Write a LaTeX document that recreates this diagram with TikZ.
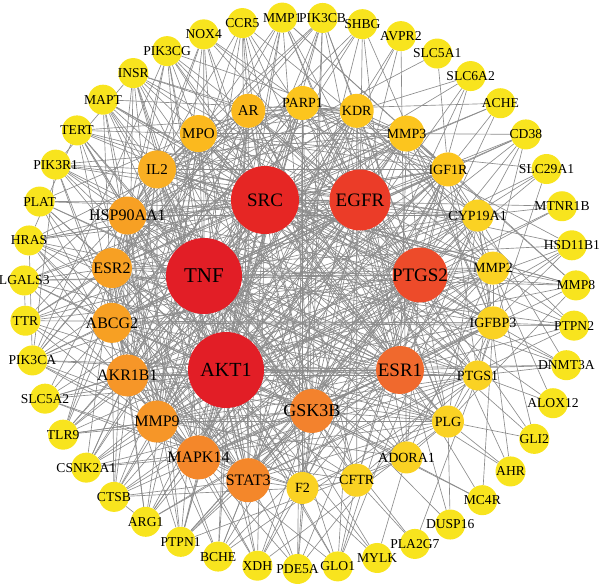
\documentclass[tikz,border=0pt]{standalone}
\usepackage{fontspec}
\setmainfont{Liberation Serif}
\usetikzlibrary{backgrounds}
\definecolor{HubRed}{HTML}{E21E26}
\definecolor{HubScarlet}{HTML}{E62624}
\definecolor{HubVermil}{HTML}{EB3C28}
\definecolor{HubCoral}{HTML}{ED4B2A}
\definecolor{HubOrange}{HTML}{F0692D}
\definecolor{HubTang}{HTML}{F3822D}
\definecolor{MidDeep}{HTML}{F4872A}
\definecolor{MidOrange}{HTML}{F69628}
\definecolor{MidAmber}{HTML}{F7A023}
\definecolor{MidSaffron}{HTML}{F9AF23}
\definecolor{MidGold}{HTML}{FBB91E}
\definecolor{MidMarigold}{HTML}{FCC51E}
\definecolor{MidSun}{HTML}{FAD223}
\definecolor{RimYellow}{HTML}{F8E41E}
\tikzset{
  % Gene node: fill colour, diameter
  gene/.style 2 args={
    circle, fill=#1, minimum size=#2,
    inner sep=0pt, text=black
  },
  % Outer ring gene
  rim/.style={gene={RimYellow}{30pt}, font=\fontsize{13.6}{13.6}\selectfont},
  % Interaction
  link/.style={draw=black!45, line width=0.65pt}
}

\begin{document}
\begin{tikzpicture}[x=1pt, y=-1pt]

  \useasboundingbox (0,0) rectangle (600,588);

  % Hubs
  \node[gene={HubRed}{76pt}, font=\fontsize{21}{21}\selectfont] (TNF) at (204,276) {\makebox[0pt]{TNF}};
  \node[gene={HubRed}{76pt}, font=\fontsize{20}{20}\selectfont] (AKT1) at (226,370) {\makebox[0pt]{AKT1}};
  \node[gene={HubScarlet}{68pt}, font=\fontsize{19}{19}\selectfont] (SRC) at (265,200) {\makebox[0pt]{SRC}};
  \node[gene={HubVermil}{61pt}, font=\fontsize{19}{19}\selectfont] (EGFR) at (360,200) {\makebox[0pt]{EGFR}};
  \node[gene={HubCoral}{55pt}, font=\fontsize{19}{19}\selectfont] (PTGS2) at (420,275) {\makebox[0pt]{PTGS2}};
  \node[gene={HubOrange}{48pt}, font=\fontsize{19}{19}\selectfont] (ESR1) at (400,370) {\makebox[0pt]{ESR1}};
  \node[gene={HubTang}{44pt}, font=\fontsize{18}{18}\selectfont] (GSK3B) at (312,411) {\makebox[0pt]{GSK3B}};

  % Inner ring, clockwise from the top
  \foreach \g/\c/\d/\f [count=\i from 0] in {
      PARP1/MidMarigold/34pt/14, KDR/MidMarigold/34pt/14,
      MMP3/MidMarigold/36pt/14, IGF1R/MidMarigold/34pt/14,
      CYP19A1/MidSun/32pt/14, MMP2/MidSun/33pt/14,
      IGFBP3/MidSun/33pt/14, PTGS1/MidSun/30pt/14,
      PLG/MidSun/32pt/14, ADORA1/MidSun/32pt/14,
      CFTR/MidSun/33pt/14, F2/MidSun/32pt/14,
      STAT3/MidDeep/44pt/16, MAPK14/MidDeep/44pt/16,
      MMP9/MidOrange/42pt/16, AKR1B1/MidOrange/42pt/16,
      ABCG2/MidAmber/40pt/16, ESR2/MidAmber/40pt/16,
      HSP90AA1/MidAmber/38pt/16, IL2/MidSaffron/38pt/15,
      MPO/MidGold/37pt/15, AR/MidGold/34pt/15}
    \node[gene={\c}{\d}, font=\fontsize{\f}{\f}\selectfont] (\g)
      at ({302.5+192.5*cos(90-16.364*\i)}, {295.5-192.5*sin(90-16.364*\i)})
      {\makebox[0pt]{\g}};

  % Outer ring, clockwise from the top
  \foreach \g [count=\i from 0] in {
      PIK3CB, SHBG, AVPR2, SLC5A1, SLC6A2, ACHE, CD38, SLC29A1,
      MTNR1B, HSD11B1, MMP8, PTPN2, DNMT3A, ALOX12, GLI2, AHR,
      MC4R, DUSP16, PLA2G7, MYLK, GLO1, PDE5A, XDH, BCHE, PTPN1,
      ARG1, CTSB, CSNK2A1, TLR9, SLC5A2, PIK3CA, TTR, LGALS3,
      HRAS, PLAT, PIK3R1, TERT, MAPT, INSR, PIK3CG, NOX4, CCR5, MMP1}
    \node[rim] (\g)
      at ({300+276*cos(85.3-8.372*\i)}, {293-276*sin(85.3-8.372*\i)})
      {\makebox[0pt]{\g}};

  % Interactions
  \begin{pgfonlayer}{background}
    \foreach \a/\bs in {
      TNF/{AKT1,SRC,EGFR,PTGS2,ESR1,GSK3B,HSP90AA1,ESR2,ABCG2,AKR1B1,MMP9,MAPK14,STAT3,IL2,MPO,AR,PARP1,KDR,MMP3,IGF1R,CYP19A1,MMP2,IGFBP3,PTGS1,PLG,ADORA1,CFTR,F2,CCR5,MMP1,NOX4,PIK3CG,INSR,MAPT,TERT,PLAT,HRAS,LGALS3,TTR,TLR9,CSNK2A1,CTSB,ARG1,PTPN1,XDH,MYLK,PLA2G7,DUSP16,AHR,PTPN2,MMP8,CD38,SHBG},
      AKT1/{SRC,EGFR,PTGS2,ESR1,GSK3B,HSP90AA1,ESR2,ABCG2,AKR1B1,MMP9,MAPK14,STAT3,IL2,MPO,AR,PARP1,KDR,MMP3,IGF1R,CYP19A1,MMP2,IGFBP3,PTGS1,PLG,F2,PIK3CB,MMP1,NOX4,PIK3CG,INSR,MAPT,TERT,PIK3R1,PLAT,HRAS,PIK3CA,SLC5A2,CSNK2A1,CTSB,ARG1,PTPN1,BCHE,PDE5A,GLO1,MYLK,MC4R,DNMT3A,HSD11B1,SLC29A1,CD38,AVPR2},
      SRC/{EGFR,PTGS2,ESR1,GSK3B,HSP90AA1,ESR2,ABCG2,AKR1B1,MMP9,MAPK14,STAT3,IL2,MPO,AR,PARP1,KDR,MMP3,IGF1R,CYP19A1,MMP2,IGFBP3,PTGS1,PLG,CFTR,F2,PIK3CB,CCR5,NOX4,PIK3CG,INSR,MAPT,PIK3R1,HRAS,LGALS3,PIK3CA,TLR9,CSNK2A1,PTPN1,XDH,GLI2,ALOX12,PTPN2,MMP8,MTNR1B,ACHE,SLC6A2},
      EGFR/{PTGS2,ESR1,GSK3B,HSP90AA1,ESR2,ABCG2,AKR1B1,MMP9,MAPK14,STAT3,IL2,MPO,AR,PARP1,KDR,MMP3,IGF1R,CYP19A1,MMP2,IGFBP3,PTGS1,PLG,ADORA1,F2,PIK3CB,SHBG,CCR5,MMP1,PIK3CG,INSR,TERT,PIK3R1,PLAT,HRAS,TTR,PIK3CA,SLC5A2,TLR9,ARG1,BCHE,GLO1,DUSP16,HSD11B1,CD38,AVPR2},
      PTGS2/{ESR1,GSK3B,HSP90AA1,ESR2,ABCG2,AKR1B1,MMP9,MAPK14,STAT3,IL2,MPO,AR,PARP1,KDR,MMP3,IGF1R,CYP19A1,MMP2,IGFBP3,PTGS1,PLG,ADORA1,CFTR,PIK3CB,MMP1,NOX4,INSR,MAPT,TERT,LGALS3,TTR,TLR9,CSNK2A1,CTSB,PTPN1,XDH,PDE5A,AHR,GLI2,MMP8,MTNR1B,SLC29A1,ACHE},
      ESR1/{GSK3B,HSP90AA1,ESR2,ABCG2,AKR1B1,MMP9,MAPK14,STAT3,IL2,MPO,AR,PARP1,KDR,MMP3,IGF1R,CYP19A1,MMP2,IGFBP3,PTGS1,PLG,F2,SHBG,CCR5,PIK3CG,MAPT,PIK3R1,PLAT,HRAS,LGALS3,PIK3CA,SLC5A2,CTSB,ARG1,BCHE,GLO1,DNMT3A,PTPN2,HSD11B1,CD38},
      GSK3B/{HSP90AA1,ESR2,ABCG2,AKR1B1,MMP9,MAPK14,STAT3,IL2,MPO,AR,PARP1,KDR,MMP3,IGF1R,MMP2,IGFBP3,PTGS1,PLG,CFTR,F2,PIK3CB,MMP1,NOX4,INSR,MAPT,TERT,PIK3R1,TTR,TLR9,CSNK2A1,PTPN1,XDH,PDE5A,MC4R,MMP8,SLC6A2},
      HSP90AA1/{ESR2,ABCG2,AKR1B1,MMP9,MAPK14,STAT3,IL2,MPO,AR,PARP1,KDR,IGF1R,CYP19A1,IGFBP3,PLG,PIK3CB,CCR5,PIK3CG,MAPT,TERT,PIK3R1,HRAS,PIK3CA,TLR9,CTSB,PTPN1,GLO1,DNMT3A,SLC5A1},
      ESR2/{ABCG2,AKR1B1,MMP9,MAPK14,STAT3,MPO,AR,KDR,MMP3,CYP19A1,MMP2,PTGS1,ADORA1,F2,SHBG,NOX4,INSR,PLAT,LGALS3,TTR,SLC5A2,CSNK2A1,ARG1,BCHE,HSD11B1,ACHE},
      ABCG2/{AKR1B1,MMP9,MAPK14,STAT3,IL2,PARP1,MMP3,IGF1R,MMP2,IGFBP3,PLG,CFTR,MMP1,PIK3CG,MAPT,PIK3R1,HRAS,LGALS3,PIK3CA,TLR9,CTSB,XDH,PTPN2,CD38},
      AKR1B1/{MMP9,MAPK14,STAT3,IL2,MPO,AR,KDR,IGF1R,CYP19A1,PTGS1,PLG,F2,CCR5,INSR,TERT,PLAT,TTR,SLC5A2,CSNK2A1,ARG1,PTPN1,PDE5A,MMP8,SLC29A1},
      MMP9/{MAPK14,STAT3,IL2,MPO,PARP1,KDR,MMP3,IGF1R,MMP2,IGFBP3,PLG,ADORA1,PIK3CB,NOX4,MAPT,PIK3R1,HRAS,PIK3CA,TLR9,CTSB,BCHE,GLO1,MTNR1B,AVPR2},
      MAPK14/{STAT3,IL2,AR,PARP1,KDR,IGF1R,CYP19A1,IGFBP3,PTGS1,CFTR,F2,MMP1,PIK3CG,TERT,LGALS3,TTR,SLC5A2,CSNK2A1,ARG1,XDH,HSD11B1,SLC6A2},
      STAT3/{IL2,MPO,AR,KDR,MMP3,MMP2,PTGS1,PLG,F2,SHBG,CCR5,INSR,PLAT,HRAS,PIK3CA,CTSB,PTPN1,BCHE,PDE5A,PTPN2,CD38},
      IL2/{MPO,AR,PARP1,KDR,MMP3,IGF1R,CYP19A1,MMP2,PIK3CB,NOX4,MAPT,PIK3R1,TLR9,CTSB,XDH,DNMT3A,MMP8},
      MPO/{AR,PARP1,KDR,MMP3,IGF1R,PTGS1,PLG,MMP1,PIK3CG,TERT,LGALS3,TTR,ARG1,GLO1,SLC29A1},
      AR/{PARP1,KDR,MMP3,IGFBP3,ADORA1,CCR5,INSR,PLAT,PIK3CA,CSNK2A1,BCHE,MC4R,ACHE},
      PARP1/{KDR,MMP3,IGF1R,CYP19A1,F2,SHBG,NOX4,HRAS,SLC5A2,PTPN1,PDE5A,HSD11B1},
      KDR/{MMP3,IGF1R,MMP2,PLG,CFTR,PIK3CB,MAPT,TERT,TTR,CTSB,PTPN2,SLC6A2},
      MMP3/{IGF1R,CYP19A1,MMP2,IGFBP3,PIK3CG,PIK3R1,LGALS3,TLR9,ARG1,MMP8,CD38},
      IGF1R/{CYP19A1,IGFBP3,PTGS1,F2,MMP1,INSR,HRAS,CSNK2A1,BCHE,XDH,ALOX12,SLC5A1,ACHE},
      CYP19A1/{MMP2,IGFBP3,PLG,CCR5,PLAT,PIK3CA,PTPN1,GLO1,AHR,MTNR1B,DNMT3A},
      MMP2/{IGFBP3,PTGS1,ADORA1,NOX4,TERT,SLC5A2,CTSB,GLI2,MMP8,PTPN2,CD38},
      IGFBP3/{PTGS1,PLG,SHBG,MAPT,TTR,ARG1,PDE5A,MC4R,HSD11B1,PTPN2,DNMT3A},
      PTGS1/{PLG,CFTR,PIK3CG,PIK3R1,TLR9,BCHE,PLA2G7,ALOX12,DNMT3A,SLC29A1},
      PLG/{ADORA1,F2,MMP1,HRAS,CSNK2A1,XDH,DUSP16,GLI2,AHR,MMP8},
      ADORA1/{CFTR,INSR,LGALS3,PTPN1,MYLK,AVPR2},
      CFTR/{F2,CCR5,PIK3CA,GLO1,PLA2G7,SLC6A2},
      F2/{PIK3CB,TERT,SLC5A2,CTSB,PDE5A,MYLK},
      PIK3CA/{PIK3R1,PIK3CB,PIK3CG,HRAS},
      INSR/{PIK3R1,PTPN1},
      TERT/{HRAS}, LGALS3/{TTR}, CTSB/{ARG1}, MMP1/{MMP8}}
      \foreach \b in \bs
        \draw[link] (\a) -- (\b);
  \end{pgfonlayer}

\end{tikzpicture}
\end{document}
